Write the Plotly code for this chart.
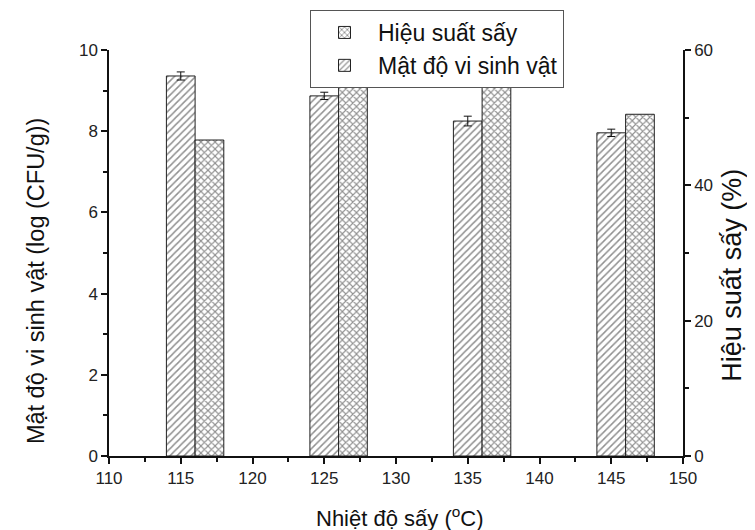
import plotly.graph_objects as go

temps = [115, 125, 135, 145]
density = [9.36, 8.87, 8.25, 7.96]
density_err = [0.10, 0.09, 0.12, 0.09]
yield_pct = [46.7, 54.7, 57.5, 50.5]

pat_line = dict(color="#222222", width=1)
FONT = "Liberation Sans, Arial"

fig = go.Figure()
fig.add_trace(go.Bar(
    x=temps, y=yield_pct, name="Hiệu suất sấy", yaxis="y2",
    width=2, offset=1,
    marker=dict(color="white", line=pat_line,
                pattern=dict(shape="x", fgcolor="#222222", bgcolor="white",
                             size=5, solidity=0.4, fillmode="overlay")),
))
fig.add_trace(go.Bar(
    x=temps, y=density, name="Mật độ vi sinh vật",
    width=2, offset=-1,
    error_y=dict(type="data", array=density_err, color="#111111", thickness=1, width=4),
    marker=dict(color="white", line=pat_line,
                pattern=dict(shape="/", fgcolor="#222222", bgcolor="white",
                             size=5, solidity=0.3, fillmode="overlay")),
))

axis_common = dict(showline=True, linecolor="#111111", linewidth=1.5,
                   ticks="outside", ticklen=6, tickcolor="#111111", tickwidth=1.5,
                   showgrid=False, zeroline=False,
                   tickfont=dict(family=FONT, size=17, color="#222222"))

# page body has an 8px offset; margins compensate
fig.update_layout(
    width=755, height=530,
    margin=dict(l=101, r=80, t=42, b=82, autoexpand=False),
    plot_bgcolor="white", paper_bgcolor="white",
    barmode="overlay",
    showlegend=True,
    legend=dict(x=302 / 755, y=1 - 2 / 530, xref="container", yref="container",
                xanchor="left", yanchor="top",
                bordercolor="#555555", borderwidth=1, bgcolor="white",
                font=dict(family=FONT, size=23, color="#111111"),
                tracegroupgap=0, itemwidth=57),
    xaxis=dict(range=[110, 150], dtick=5,
               minor=dict(dtick=2.5, ticks="outside", ticklen=4, tickcolor="#111111"),
               **axis_common),
    yaxis=dict(range=[0, 10], dtick=2,
               minor=dict(dtick=1, ticks="outside", ticklen=4, tickcolor="#111111"),
               **axis_common),
    yaxis2=dict(range=[0, 60], dtick=20, overlaying="y", side="right",
                minor=dict(dtick=10, ticks="outside", ticklen=4, tickcolor="#111111"),
                **axis_common),
    annotations=[
        dict(text="Nhiệt độ sấy (<sup>o</sup>C)", xref="paper", yref="paper",
             x=0.507, y=-0.15, xanchor="center", yanchor="middle", showarrow=False,
             font=dict(family=FONT, size=22, color="#111111")),
        dict(text="Mật độ vi sinh vật (log (CFU/g))", xref="paper", yref="paper",
             x=-0.127, y=0.431, xanchor="center", yanchor="middle", showarrow=False,
             textangle=-90, font=dict(family=FONT, size=23.5, color="#111111")),
        dict(text="Hiệu suất sấy (%)", xref="paper", yref="paper",
             x=1.085, y=0.446, xanchor="center", yanchor="middle", showarrow=False,
             textangle=-90, font=dict(family=FONT, size=27, color="#111111")),
    ],
)

fig.write_html("out.html")
